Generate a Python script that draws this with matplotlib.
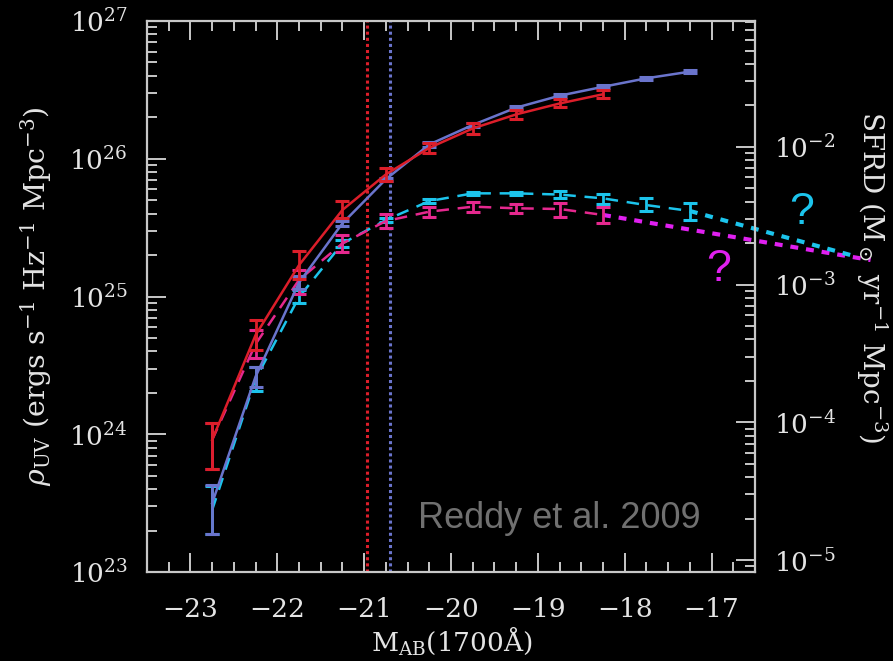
import numpy as np
import matplotlib
matplotlib.use("Agg")
import matplotlib.pyplot as plt
from matplotlib.ticker import LogLocator, MultipleLocator, NullFormatter

plt.rcParams["font.family"] = ["DejaVu Serif"]
plt.rcParams["mathtext.fontset"] = "dejavuserif"

# absolute magnitude bins M_AB(1700A)
mag = [-22.75, -22.25, -21.75, -21.25, -20.75, -20.25, -19.75, -19.25, -18.75, -18.25, -17.75, -17.25]

# z~3 (red, solid) luminosity density
rho_z3 = [9.1e23, 5.25e24, 1.69e25, 4.25e25, 7.7e25, 1.20e26, 1.66e26, 2.10e26, 2.52e26, 2.94e26]
rho_z3_lo = [5.6e23, 4.09e24, 1.34e25, 3.70e25, 6.9e25, 1.10e26, 1.51e26, 1.94e26, 2.37e26, 2.75e26]
rho_z3_hi = [1.2e24, 6.75e24, 2.14e25, 4.93e25, 8.6e25, 1.31e26, 1.81e26, 2.26e26, 2.71e26, 3.16e26]

# z~2 (blue, solid)
rho_z2 = [3.16e23, 2.62e24, 1.26e25, 3.40e25, 7.10e25, 1.27e26, 1.76e26, 2.35e26, 2.87e26, 3.33e26, 3.84e26, 4.29e26]
rho_z2_lo = [1.88e23, 2.20e24, 1.13e25, 3.25e25, 6.9e25, 1.22e26, 1.70e26, 2.28e26, 2.79e26, 3.25e26, 3.76e26, 4.19e26]
rho_z2_hi = [4.29e23, 3.08e24, 1.40e25, 3.55e25, 7.3e25, 1.32e26, 1.82e26, 2.42e26, 2.95e26, 3.41e26, 3.92e26, 4.39e26]

# z~2 dashed (cyan)
rho_z2d = [2.82e23, 2.52e24, 9.9e24, 2.43e25, 3.59e25, 4.93e25, 5.61e25, 5.61e25, 5.5e25, 5.16e25, 4.61e25, 4.18e25]
rho_z2d_lo = [1.9e23, 2.06e24, 8.98e24, 2.30e25, 3.45e25, 4.80e25, 5.45e25, 5.45e25, 5.2e25, 4.70e25, 4.18e25, 3.59e25]
rho_z2d_hi = [4.2e23, 3.08e24, 1.11e25, 2.57e25, 3.73e25, 5.07e25, 5.78e25, 5.78e25, 5.8e25, 5.52e25, 5.16e25, 4.74e25]

# z~3 dashed (pink)
rho_z3d = [9.1e23, 4.52e24, 1.32e25, 2.43e25, 3.53e25, 4.13e25, 4.49e25, 4.37e25, 4.32e25, 3.91e25]
rho_z3d_lo = [5.6e23, 3.58e24, 1.05e25, 2.11e25, 3.13e25, 3.80e25, 4.13e25, 4.06e25, 3.78e25, 3.40e25]
rho_z3d_hi = [1.2e24, 5.72e24, 1.56e25, 2.79e25, 3.96e25, 4.49e25, 4.88e25, 4.70e25, 4.78e25, 4.49e25]

# faint-end extrapolations
ext_z3_mag = [-18.25, -15.17]
ext_z3_rho = [3.91e25, 1.84e25]
ext_z2_mag = [-17.25, -15.40]
ext_z2_rho = [4.18e25, 2.0e25]

mstar_z3 = -20.97
mstar_z2 = -20.70
sfr_per_lum = 8.2e-29

red = "#dc1e2a"
blue = "#6a74cc"
cyan = "#1cc4ec"
pink = "#e5288e"
magenta = "#e020f0"
fg = "#e4e4e4"

fig = plt.figure(figsize=(8.93, 6.61), dpi=100)
fig.patch.set_facecolor("black")
ax = fig.add_axes([0.1646, 0.1346, 0.6809, 0.8336])
ax.set_facecolor("black")


def err(v, lo, hi):
    v = np.array(v)
    return [v - np.array(lo), np.array(hi) - v]


ax.axvline(mstar_z3, color=red, lw=2.2, ls=(0, (1, 1)), zorder=1)
ax.axvline(mstar_z2, color=blue, lw=2.2, ls=(0, (1, 1)), zorder=1)

ax.plot(ext_z3_mag, ext_z3_rho, color=magenta, lw=3, ls=(0, (1.9, 1.9)), clip_on=False, zorder=2)
ax.plot(ext_z2_mag, ext_z2_rho, color=cyan, lw=3, ls=(0, (1.9, 1.9)), clip_on=False, zorder=2)

eb = dict(capsize=5, capthick=2.2, elinewidth=2)
ax.errorbar(mag, rho_z2d, yerr=err(rho_z2d, rho_z2d_lo, rho_z2d_hi), color=cyan, lw=1.8,
            ls=(0, (5, 3.5)), zorder=3, **eb)
ax.errorbar(mag[:10], rho_z3d, yerr=err(rho_z3d, rho_z3d_lo, rho_z3d_hi), color=pink, lw=1.8,
            ls=(0, (5, 3.5)), zorder=4, **eb)
ax.errorbar(mag, rho_z2, yerr=err(rho_z2, rho_z2_lo, rho_z2_hi), color=blue, lw=1.8, zorder=5, **eb)
ax.errorbar(mag[:10], rho_z3, yerr=err(rho_z3, rho_z3_lo, rho_z3_hi), color=red, lw=1.8, zorder=6, **eb)

ax.set_yscale("log")
ax.set_xlim(-23.5, -16.5)
ax.set_ylim(1e23, 1e27)
ax.xaxis.set_major_locator(MultipleLocator(1))
ax.xaxis.set_minor_locator(MultipleLocator(0.25))
ax.yaxis.set_minor_locator(LogLocator(base=10, subs=np.arange(2, 10)))
ax.yaxis.set_minor_formatter(NullFormatter())

for s in ax.spines.values():
    s.set_color("#c8c8c8")
    s.set_linewidth(1.6)

ax.tick_params(which="both", direction="in", colors="#c8c8c8", labelcolor=fg, top=True, right=False,
               labelsize=19, width=1.4)
ax.tick_params(which="major", length=14)
ax.tick_params(which="minor", length=7)
ax.tick_params(axis="x", pad=18)
ax.tick_params(axis="y", pad=14)

ax.set_xlabel(r"M$_{\rm AB}$(1700Å)", color=fg, fontsize=19)
ax.xaxis.set_label_coords(0.502, -0.095)
ax.set_ylabel(r"$\rho_{\rm UV}$ (ergs s$^{-1}$ Hz$^{-1}$ Mpc$^{-3}$)", color=fg, fontsize=20.5)
ax.yaxis.set_label_coords(-0.153, 0.5)

ax2 = ax.twinx()
ax2.set_yscale("log")
ax2.set_ylim(1e23 * sfr_per_lum, 1e27 * sfr_per_lum)
ax2.yaxis.set_minor_locator(LogLocator(base=10, subs=np.arange(2, 10)))
ax2.yaxis.set_minor_formatter(NullFormatter())
for s in ax2.spines.values():
    s.set_visible(False)
ax2.tick_params(which="both", direction="in", colors="#c8c8c8", labelcolor=fg, labelsize=19, width=1.4, pad=14)
ax2.tick_params(which="major", length=14)
ax2.tick_params(which="minor", length=7)
ax2.set_ylabel(r"SFRD (M$_\odot$ yr$^{-1}$ Mpc$^{-3}$)", color=fg, fontsize=20, rotation=270)
ax2.yaxis.set_label_coords(1.22, 0.535)

ax.text(0.446, 0.08, "Reddy et al. 2009", transform=ax.transAxes, color="#707070", fontsize=26,
        family="Liberation Sans", ha="left", va="baseline")
ax.text(-15.97, 4.1e25, "?", color=cyan, fontsize=32, family="Liberation Sans", ha="center", va="center")
ax.text(-16.92, 1.56e25, "?", color=magenta, fontsize=32, family="Liberation Sans", ha="center", va="center")

fig.savefig("out.png", dpi=100, facecolor="black")
